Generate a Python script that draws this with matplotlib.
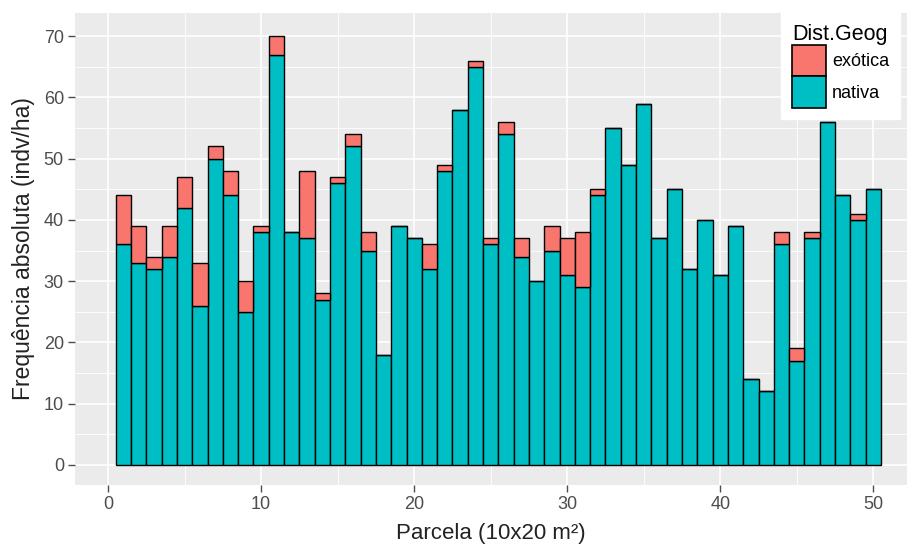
import matplotlib.pyplot as plt
from matplotlib.patches import Patch
import numpy as np

# Parcel numbers and counts (indv/ha)
parcela = list(range(1, 51))
nativa = [36, 33, 32, 34, 42, 26, 50, 44, 25, 38,
          67, 38, 37, 27, 46, 52, 35, 18, 39, 37,
          32, 48, 58, 65, 36, 54, 34, 30, 35, 31,
          29, 44, 55, 49, 59, 37, 45, 32, 40, 31,
          39, 14, 12, 36, 17, 37, 56, 44, 40, 45]
total = [44, 39, 34, 39, 47, 33, 52, 48, 30, 39,
         70, 38, 48, 28, 47, 54, 38, 18, 39, 37,
         36, 49, 58, 66, 37, 56, 37, 30, 39, 37,
         38, 45, 55, 49, 59, 37, 45, 32, 40, 31,
         39, 14, 12, 38, 19, 38, 56, 44, 41, 45]
exotica = [t - n for t, n in zip(total, nativa)]

COL_EXO = "#F8766D"
COL_NAT = "#00BFC4"

plt.rcParams['font.family'] = ['Liberation Sans', 'DejaVu Sans']

fig = plt.figure(figsize=(9.07, 5.44), dpi=100)
ax = fig.add_axes([75 / 907, 1 - 485 / 544, 832 / 907, 472 / 544])
ax.set_facecolor("#EBEBEB")

# grid like ggplot theme_gray
for v in np.arange(5, 75, 10):
    ax.axhline(v, color="white", lw=0.6, zorder=0)
for v in np.arange(0, 75, 10):
    ax.axhline(v, color="white", lw=1.2, zorder=0)
for v in np.arange(5, 55, 10):
    ax.axvline(v, color="white", lw=0.6, zorder=0)
for v in np.arange(0, 55, 10):
    ax.axvline(v, color="white", lw=1.2, zorder=0)

ax.bar(parcela, nativa, width=1, color=COL_NAT, edgecolor="black", linewidth=1, zorder=2)
ax.bar(parcela, exotica, bottom=nativa, width=1, color=COL_EXO, edgecolor="black", linewidth=1, zorder=2)

ax.set_xlim(-2.16, 52.2)
ax.set_ylim(-3.3, 73.8)
ax.set_xticks(range(0, 51, 10))
ax.set_yticks(range(0, 71, 10))
ax.tick_params(axis="both", colors="#4D4D4D", labelsize=13, length=5, width=1, pad=3)
ax.tick_params(axis="both", labelcolor="#4D4D4D")
for s in ax.spines.values():
    s.set_visible(False)

ax.set_xlabel("Parcela (10x20 m²)", fontsize=16, color="#222222", labelpad=7)
ax.set_ylabel("Frequência absoluta (indv/ha)", fontsize=16.5, color="#222222", labelpad=6)

handles = [Patch(facecolor=COL_EXO, edgecolor="black", linewidth=1.2, label="exótica"),
           Patch(facecolor=COL_NAT, edgecolor="black", linewidth=1.2, label="nativa")]
leg = ax.legend(handles=handles, title="Dist.Geog", loc="upper right",
                bbox_to_anchor=(0.9915, 1.0), frameon=True, fancybox=False,
                fontsize=13, title_fontsize=15.5, handlelength=1.85, handleheight=2.3,
                handletextpad=0.35, labelspacing=0.0, borderpad=0.6, borderaxespad=0)
leg.get_frame().set_edgecolor("white")
leg.get_frame().set_facecolor("white")
leg.get_frame().set_alpha(1)
leg._legend_box.align = "left"

fig.savefig("out.png", dpi=100)
